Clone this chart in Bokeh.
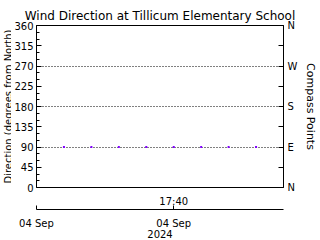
import math
import pandas as pd
from bokeh.plotting import figure
from bokeh.layouts import row
from bokeh.models import DatetimeAxis, LinearAxis, FixedTicker, Range1d, Label
from bokeh.embed import file_html
from bokeh.resources import INLINE

# ---- data ----
title_text = "Wind Direction at Tillicum Elementary School"
left_label = "Direction (degrees from North)"
right_label = "Compass Points"
date = "2024-09-04"
times = ["17:20", "17:25", "17:30", "17:35", "17:40", "17:45", "17:50", "17:55"]
direction = [90, 90, 90, 90, 90, 90, 90, 90]
x_start, x_end = "17:15", "18:00"
time_tick = "17:40"
date_ticks = ["17:15", "17:40"]
deg_ticks = [0, 45, 90, 135, 180, 225, 270, 315, 360]
deg_minor = [15, 30, 60, 75, 105, 120, 150, 165, 195, 210, 240, 255, 285, 300, 330, 345]
compass_ticks = [0, 90, 180, 270, 360]
compass_labels = ["N", "E", "S", "W", "N"]
compass_minor = [45, 135, 225, 315]
grid_lines = [90, 180, 270]

FONT = "DejaVu Sans"
LABEL_W = 11
H = 240


def ms(t):
    return pd.Timestamp(f"{date} {t}").value / 1e6


xs = [ms(t) for t in times]

# narrow strip holding the rotated left title
lab = figure(width=LABEL_W, height=H, output_backend="svg", toolbar_location=None,
             title=None, x_range=Range1d(0, LABEL_W), y_range=Range1d(0, H),
             x_axis_location=None, y_axis_location=None,
             min_border_left=0, min_border_right=0, min_border_top=0, min_border_bottom=0,
             background_fill_color="white", border_fill_color="white")
lab.outline_line_color = None
lab.grid.visible = False
lab.add_layout(Label(x=8, y=H / 2, text=left_label,
                     angle=math.pi / 2, text_align="center", text_baseline="alphabetic",
                     text_font=FONT, text_font_size="10px", text_color="black"))

p = figure(width=320 - LABEL_W, height=H, output_backend="svg", toolbar_location=None,
           x_axis_type="datetime",
           x_range=Range1d(ms(x_start), ms(x_end)), y_range=Range1d(0, 360),
           min_border_left=33 - LABEL_W, min_border_right=32, min_border_top=25,
           min_border_bottom=53,
           background_fill_color="white", border_fill_color="white")

p.title.text = title_text
p.title.align = "center"
p.title.text_font = FONT
p.title.text_font_size = "12px"
p.title.text_font_style = "normal"
p.title.text_color = "black"
p.title.standoff = 6

p.outline_line_color = "black"
p.outline_line_alpha = 1
p.outline_line_width = 1

p.xgrid.visible = False
p.ygrid.ticker = FixedTicker(ticks=grid_lines)
p.ygrid.grid_line_color = "black"
p.ygrid.grid_line_alpha = 1
p.ygrid.grid_line_dash = "1 2"

# left axis
ya = p.yaxis[0]
ya.ticker = FixedTicker(ticks=deg_ticks, minor_ticks=deg_minor)

# right axis
ra = LinearAxis(ticker=FixedTicker(ticks=compass_ticks, minor_ticks=compass_minor),
                major_label_overrides={t: l for t, l in zip(compass_ticks, compass_labels)},
                axis_label=right_label)
p.add_layout(ra, "right")

# bottom axes
xa = p.xaxis[0]
xa.ticker = FixedTicker(ticks=[ms(time_tick)])
xa.major_label_overrides = {ms(time_tick): time_tick}

date_label = pd.Timestamp(date).strftime("%d %b")
xa2 = DatetimeAxis(ticker=FixedTicker(ticks=[ms(t) for t in date_ticks]),
                   major_label_overrides={ms(t): date_label for t in date_ticks},
                   axis_label=pd.Timestamp(date).strftime("%Y"))
p.add_layout(xa2, "below")

for ax in [ya, ra, xa, xa2]:
    ax.major_label_text_font = FONT
    ax.major_label_text_font_size = "10px"
    ax.major_label_text_color = "black"
    ax.axis_label_text_font = FONT
    ax.axis_label_text_font_size = "10px"
    ax.axis_label_text_font_style = "normal"
    ax.axis_label_text_color = "black"
    ax.major_tick_out = 0
    ax.minor_tick_out = 0
for ax in [ya, ra, xa2]:
    ax.axis_line_color = "black"
    ax.major_tick_line_color = "black"
    ax.minor_tick_line_color = "black"
    ax.major_tick_in = 5
    ax.minor_tick_in = 3

ya.major_label_standoff = 3

ra.minor_tick_in = 5
ra.major_label_standoff = 4
ra.axis_label_standoff = 4
ra.axis_label_text_font_size = "11px"

xa.axis_line_color = None
xa.major_tick_line_color = None
xa.minor_tick_line_color = None
xa.major_label_standoff = 8

xa2.minor_tick_line_color = None
xa2.major_tick_in = 4
xa2.major_label_standoff = 8
xa2.axis_label_standoff = -2

p.scatter(xs, direction, marker="square", size=2, color="#8000ff", line_color=None)

layout = row(lab, p, spacing=0)
open("out.html", "w").write(file_html(layout, INLINE))
